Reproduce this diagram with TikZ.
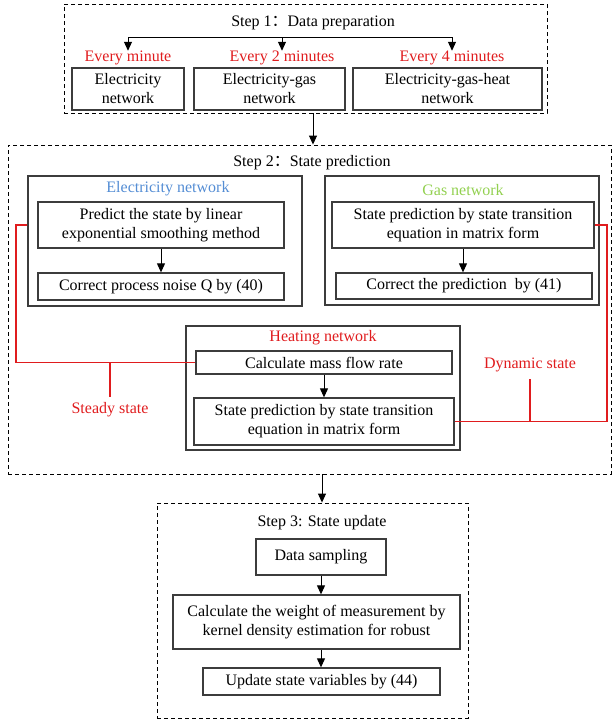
\documentclass[tikz,border=0pt]{standalone}
\usepackage{fontspec}
\setmainfont{Liberation Serif}
\newfontfamily\cjkfont{Noto Sans CJK SC}
\usetikzlibrary{arrows.meta}
\definecolor{elecblue}{RGB}{84,141,212}
\definecolor{gasgreen}{RGB}{146,208,80}
\definecolor{heatred}{RGB}{224,28,30}
\definecolor{boxgray}{RGB}{60,60,60}
\newcommand{\fullcolon}{{\cjkfont ：}}

\begin{document}
\begin{tikzpicture}[x=1pt,y=1pt]
\tikzstyle{every node}+=[inner sep=0pt, font=\fontsize{16}{19}\selectfont]
\tikzstyle{frame}=[draw=black, line width=0.9pt, dash pattern=on 4pt off 3pt]
\tikzstyle{box}=[draw=boxgray, line width=1.3pt, align=center]
\tikzstyle{redtext}=[text=heatred]
\tikzstyle{redline}=[draw=heatred, line width=1.2pt]
\tikzstyle{arr}=[draw=black, line width=1pt, -{Triangle[length=9pt,width=8pt]}]
\useasboundingbox (0,0) rectangle (613,-721);
\node[frame, minimum width=483, minimum height=109] (step1) at (305.5,-58.5) {};
\node (title1) at (313,-23) {Step 1\fullcolon Data preparation};
\coordinate (bar) at (0,-37);
\node[redtext] (min1) at (128,-58) {Every minute};
\node[redtext] (min2) at (282,-58) {Every 2 minutes};
\node[redtext] (min4) at (452,-58) {Every 4 minutes};
\draw[line width=1pt] (min1 |- bar) -- (min4 |- bar);
\foreach \n in {min1,min2,min4}
  \draw[arr] (\n |- bar) -- (\n.north);
\node[box, minimum width=112, minimum height=42] (elecnet) at (128,-89) {Electricity\\network};
\node[box, minimum width=151, minimum height=42] (gasnet) at (269.5,-89) {Electricity-gas\\network};
\node[box, minimum width=189, minimum height=42] (heatnet) at (447.5,-89) {Electricity-gas-heat\\network};

\node[frame, minimum width=603, minimum height=329] (step2) at (309.5,-309.5) {};
\node (title2) at (312,-163) {Step 2\fullcolon State prediction};
\draw[arr] (title1 |- step1.south) -- (title1 |- step2.north);
\node[box, minimum width=274, minimum height=130] (elec) at (165,-241) {};
\node[text=elecblue] (electitle) at (168,-189) {Electricity network};
\node[box, minimum width=246, minimum height=46] (p1) at (161,-225) {Predict the state by linear\\exponential smoothing method};
\node[box, minimum width=246, minimum height=27] (p2) at (161,-286.5) {Correct process noise Q by (40)};
\draw[arr] (p1.south) -- (p1.south |- p2.north);
\node[box, minimum width=274, minimum height=129] (gas) at (462,-240.5) {};
\node[text=gasgreen] (gastitle) at (463,-190) {Gas network};
\node[box, minimum width=262, minimum height=46] (g1) at (463,-225) {State prediction by state transition\\equation in matrix form};
\node[box, minimum width=256, minimum height=26] (g2) at (464,-286) {Correct the prediction~ by (41)};
\draw[arr] (g1.south) -- (g1.south |- g2.north);
\node[box, minimum width=274, minimum height=124] (heat) at (323,-388) {};
\node[redtext] (heattitle) at (323,-338) {Heating network};
\node[box, minimum width=256, minimum height=23] (h1) at (324,-362.5) {Calculate mass flow rate};
\node[box, minimum width=260, minimum height=47] (h2) at (324,-421.5) {State prediction by state transition\\equation in matrix form};
\draw[arr] (h1.south) -- (h1.south |- h2.north);
\coordinate (lftx) at (16,0);
\coordinate (rgtx) at (607,0);
\node[redtext] (steady) at (110,-410) {Steady state};
\node[redtext] (dynamic) at (530,-365) {Dynamic state};
\draw[redline] (p1 -| elec.west) -- (p1 -| lftx) |- (h1.west);
\draw[redline] (steady |- h1.west) -- ([yshift=6pt]steady.north);
\draw[redline] (g1.east) -- (g1 -| rgtx) |- (h2.east);
\draw[redline] (dynamic |- h2.east) -- ([yshift=-7pt]dynamic.south);

\node[frame, minimum width=311, minimum height=215] (step3) at (312.5,-610.5) {};
\node (title3) at (322,-523) {Step 3: State update};
\draw[arr] (title3 |- step2.south) -- (title3 |- step3.north);
\node[box, minimum width=130, minimum height=36] (s1) at (321,-557) {Data sampling};
\node[box, minimum width=287, minimum height=54] (s2) at (316.5,-622) {Calculate the weight of measurement by\\kernel density estimation for robust};
\node[box, minimum width=237, minimum height=27] (s3) at (321.5,-681.5) {Update state variables by (44)};
\draw[arr] (s1.south) -- (s1.south |- s2.north);
\draw[arr] (s2.south -| s1) -- (s1 |- s3.north);
\end{tikzpicture}
\end{document}
